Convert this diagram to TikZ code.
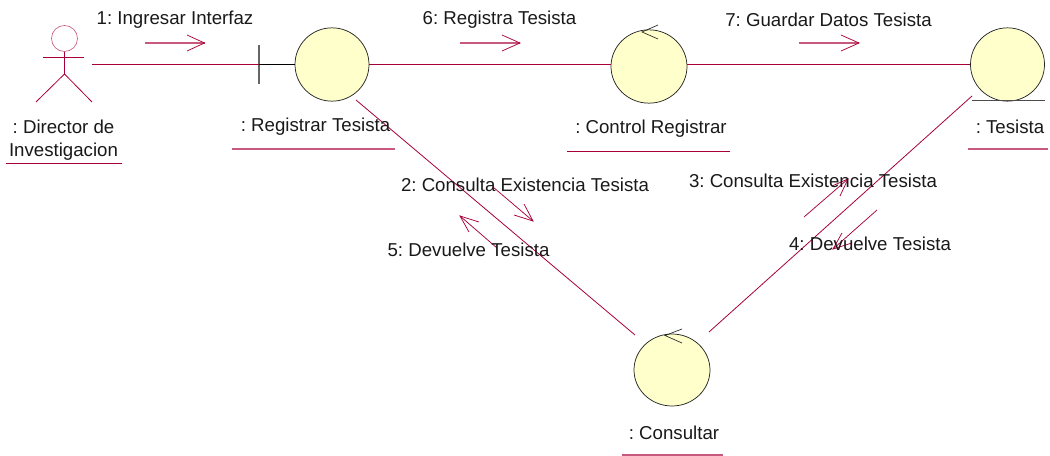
\documentclass[tikz,border=0pt]{standalone}
\usepackage{fontspec}
\setmainfont{Liberation Sans}
\usetikzlibrary{shapes.geometric}
\definecolor{rosered}{HTML}{A80036}
\definecolor{rosefill}{HTML}{FFFFCC}
\frenchspacing
\tikzset{
	obj/.style={draw=black!85,fill=rosefill,ellipse,inner sep=0,line width=0.55pt,minimum width=55.5pt,minimum height=55pt},
	lbl/.style={inner sep=0,font=\fontsize{14}{17.25}\selectfont,text=black!90},
	link/.style={rosered,line width=0.6pt},
	under/.style={rosered!65,line width=0.85pt},
	msg/.style={rosered,line width=0.55pt},
	ctrl/.style={black!85,line width=0.5pt}
}
\begin{document}
\begin{tikzpicture}[x=0.75pt,y=-0.75pt]
	\useasboundingbox (0,0) rectangle (1050,456);

	% actor
	\node[draw=rosered!65,circle,inner sep=0,minimum size=19.5pt,line width=0.5pt] (head) at (64.5,38.5) {};
	\coordinate (armL) at (43,57);
	\coordinate (armR) at (84,57);
	\coordinate (hip) at (64.5,74);
	\coordinate (footL) at (36,102);
	\coordinate (footR) at (92,102);
	\draw[link] (armL) -- (armR);
	\draw[link] (head) -- (hip);
	\draw[link] (footL) -- (hip) -- (footR);

	% objects
	\node[obj] (registrar) at (332,64.5) {};
	\node[obj,minimum width=57pt] (control) at (649,66.5) {};
	\node[obj] (tesista) at (1007.5,64.5) {};
	\node[obj,minimum width=57pt,minimum height=54pt] (consultar) at (672,370) {};

	% boundary
	\coordinate (barT) at (259,45);
	\coordinate (barB) at (259,84);
	\coordinate (barM) at (259,64.5);
	\draw[gray!80!black,line width=0.9pt] (barT) -- (barB);
	\draw[black,line width=0.6pt] (barM) -- (registrar.west);

	% entity
	\coordinate (entL) at (972,100.5);
	\coordinate (entR) at (1045,100.5);
	\draw[black!70,line width=0.6pt] (entL) -- (entR);

	% control marks
	\coordinate (ctA) at (658,25);
	\coordinate (ctB) at (642,32);
	\coordinate (ctC) at (658,39);
	\draw[ctrl] (ctA) -- (ctB) -- (ctC);
	\coordinate (coA) at (682,329);
	\coordinate (coB) at (665,335.5);
	\coordinate (coC) at (682,343);
	\draw[ctrl] (coA) -- (coB) -- (coC);

	% links
	\coordinate (actorR) at (92,64.5);
	\coordinate (regOut) at (356,100);
	\coordinate (conL) at (635,335);
	\coordinate (conR) at (709,332);
	\coordinate (tesOut) at (972,96);
	\draw[link] (actorR) -- (barM);
	\draw[link] (registrar.east) -- (registrar.east -| control.west);
	\draw[link] (registrar.east -| control.east) -- (tesista.west);
	\draw[link] (regOut) -- (conL);
	\draw[link] (conR) -- (tesOut);

	% messages
	\coordinate (m1a) at (145,43); \coordinate (m1b) at (204.5,43);
	\coordinate (m1c) at (187,35); \coordinate (m1d) at (187,51);
	\coordinate (m6a) at (460,43); \coordinate (m6b) at (520,43);
	\coordinate (m6c) at (502,35); \coordinate (m6d) at (502,51);
	\coordinate (m7a) at (799,43); \coordinate (m7b) at (859,43);
	\coordinate (m7c) at (841,35); \coordinate (m7d) at (841,51);
	\draw[under] (m1a) -- (m1b);
	\draw[msg] (m1c) -- (m1b) -- (m1d);
	\draw[under] (m6a) -- (m6b);
	\draw[msg] (m6c) -- (m6b) -- (m6d);
	\draw[under] (m7a) -- (m7b);
	\draw[msg] (m7c) -- (m7b) -- (m7d);

	\coordinate (m2a) at (493,187); \coordinate (m2b) at (533,221);
	\coordinate (m2c) at (524,204); \coordinate (m2d) at (514,215);
	\draw[msg] (m2a) -- (m2b);
	\draw[msg] (m2c) -- (m2b) -- (m2d);

	\coordinate (m5a) at (497,248); \coordinate (m5b) at (460,216);
	\coordinate (m5c) at (479,222); \coordinate (m5d) at (469,232);
	\draw[msg] (m5a) -- (m5b);
	\draw[msg] (m5c) -- (m5b) -- (m5d);

	\coordinate (m3a) at (804,217); \coordinate (m3b) at (848,179);
	\coordinate (m3c) at (832,186); \coordinate (m3d) at (840,196);
	\draw[msg] (m3a) -- (m3b);
	\draw[msg] (m3c) -- (m3b) -- (m3d);

	\coordinate (m4a) at (877,210); \coordinate (m4b) at (833,249);
	\coordinate (m4c) at (842,233); \coordinate (m4d) at (852,243);
	\draw[msg] (m4a) -- (m4b);
	\draw[msg] (m4c) -- (m4b) -- (m4d);

	% name labels
	\node[lbl,align=center] (lblDir) at (63.5,140.5) {: Director de\\Investigacion};
	\node[lbl] (lblReg) at (315.5,127) {: Registrar Tesista};
	\node[lbl] (lblCtl) at (651,129) {: Control Registrar};
	\node[lbl] (lblTes) at (1010,127) {: Tesista};
	\node[lbl] (lblCon) at (674,433) {: Consultar};

	\coordinate (u1a) at (6,163); \coordinate (u1b) at (122,163);
	\coordinate (u2a) at (232,149); \coordinate (u2b) at (395,149);
	\coordinate (u3a) at (567,151); \coordinate (u3b) at (730,151);
	\coordinate (u4a) at (968,149); \coordinate (u4b) at (1048,149);
	\coordinate (u5a) at (622,455); \coordinate (u5b) at (723,455);
	\draw[link] (u1a) -- (u1b);
	\draw[under] (u2a) -- (u2b);
	\draw[link] (u3a) -- (u3b);
	\draw[under] (u4a) -- (u4b);
	\draw[under] (u5a) -- (u5b);

	% message labels
	\node[lbl] (txt1) at (175,20) {1: Ingresar Interfaz};
	\node[lbl] (txt6) at (499.5,20) {6: Registra Tesista};
	\node[lbl] (txt7) at (828.5,20) {7: Guardar Datos Tesista};
	\node[lbl] (txt2) at (525,185) {2: Consulta Existencia Tesista};
	\node[lbl] (txt5) at (468.5,250) {5: Devuelve Tesista};
	\node[lbl] (txt3) at (813,181) {3: Consulta Existencia Tesista};
	\node[lbl] (txt4) at (870,244) {4: Devuelve Tesista};
\end{tikzpicture}
\end{document}
